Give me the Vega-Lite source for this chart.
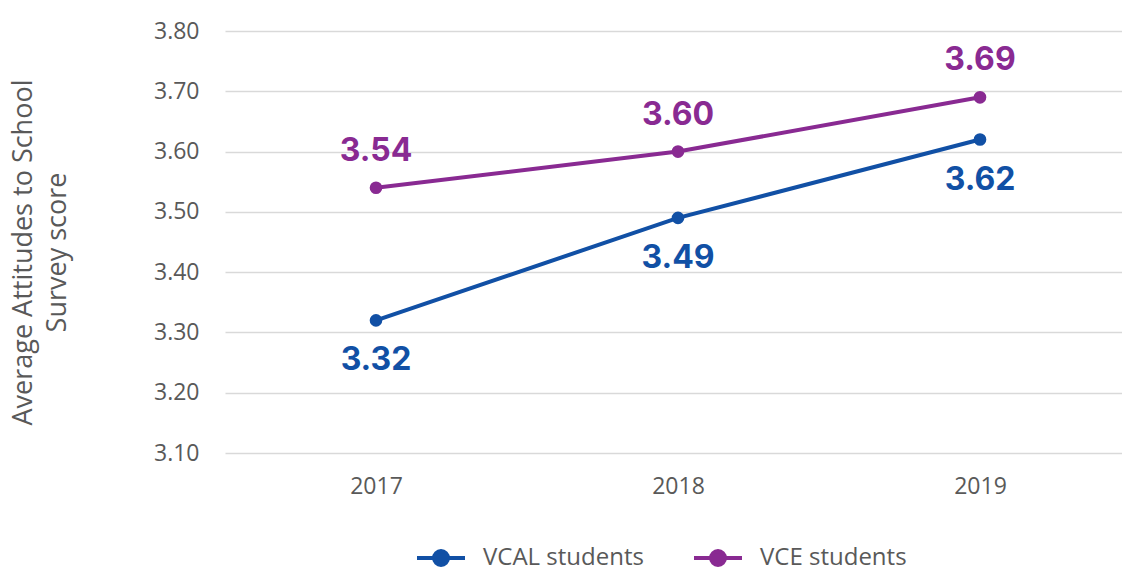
{
  "$schema": "https://vega.github.io/schema/vega-lite/v6.json",
  "width": 906,
  "height": 422,
  "autosize": "none",
  "padding": {"left": 225, "top": 31, "right": 0, "bottom": 118},
  "background": "white",
  "config": {
    "font": "Open Sans",
    "view": {"stroke": null}
  },
  "data": {
    "values": [
      {"year": "2017", "series": "VCAL students", "score": 3.32},
      {"year": "2018", "series": "VCAL students", "score": 3.49},
      {"year": "2019", "series": "VCAL students", "score": 3.62},
      {"year": "2017", "series": "VCE students", "score": 3.54},
      {"year": "2018", "series": "VCE students", "score": 3.60},
      {"year": "2019", "series": "VCE students", "score": 3.69}
    ]
  },
  "encoding": {
    "x": {
      "field": "year", "type": "ordinal",
      "scale": {"type": "point", "padding": 0.5},
      "axis": {"title": null, "labelAngle": 0, "domain": false, "ticks": false, "labelFontSize": 23, "labelColor": "#595959", "labelPadding": 22, "labelFont": "Open Sans"}
    },
    "y": {
      "field": "score", "type": "quantitative",
      "scale": {"domain": [3.1, 3.8], "zero": false, "nice": false},
      "axis": {
        "values": [3.1, 3.2, 3.3, 3.4, 3.5, 3.6, 3.7, 3.8],
        "format": ".2f",
        "title": ["Average Attitudes to School", "Survey score"],
        "titleFontSize": 27, "titleFontWeight": "normal", "titleColor": "#595959", "titleFont": "Open Sans",
        "titleLineHeight": 34, "titlePadding": 82, "titleY": 221,
        "domain": false, "ticks": false,
        "labelFontSize": 23, "labelColor": "#595959", "labelPadding": 26, "labelFont": "Open Sans",
        "gridColor": "#d9d9d9", "gridWidth": 1.5
      }
    },
    "color": {
      "field": "series", "type": "nominal",
      "scale": {"domain": ["VCAL students", "VCE students"], "range": ["#1150A5", "#892A92"]},
      "legend": {
        "title": null, "orient": "none", "direction": "horizontal",
        "legendX": 190, "legendY": 501,
        "symbolType": "M-1,0L1,0M0.29,0A0.29,0.29,0,1,1,-0.29,0A0.29,0.29,0,1,1,0.29,0Z",
        "symbolSize": 2304, "symbolStrokeWidth": 4,
        "labelFontSize": 24, "labelColor": "#595959", "labelFont": "Open Sans", "labelOffset": 16,
        "labelLimit": 400,
        "columnPadding": 42,
        "encode": {
          "symbols": {
            "update": {
              "stroke": {"scale": "color", "field": "value"},
              "fill": {"scale": "color", "field": "value"},
              "strokeWidth": {"value": 4},
              "opacity": {"value": 1}
            }
          }
        }
      }
    }
  },
  "layer": [
    {"mark": {"type": "line", "strokeWidth": 4}},
    {"mark": {"type": "point", "filled": true, "size": 160, "opacity": 1}},
    {
      "transform": [{"filter": "datum.series === 'VCE students'"}],
      "mark": {"type": "text", "dy": -37, "fontSize": 32, "fontWeight": "bold", "font": "Inter"},
      "encoding": {"text": {"field": "score", "type": "quantitative", "format": ".2f"}}
    },
    {
      "transform": [{"filter": "datum.series === 'VCAL students'"}],
      "mark": {"type": "text", "dy": 40, "fontSize": 32, "fontWeight": "bold", "font": "Inter"},
      "encoding": {"text": {"field": "score", "type": "quantitative", "format": ".2f"}}
    }
  ]
}
